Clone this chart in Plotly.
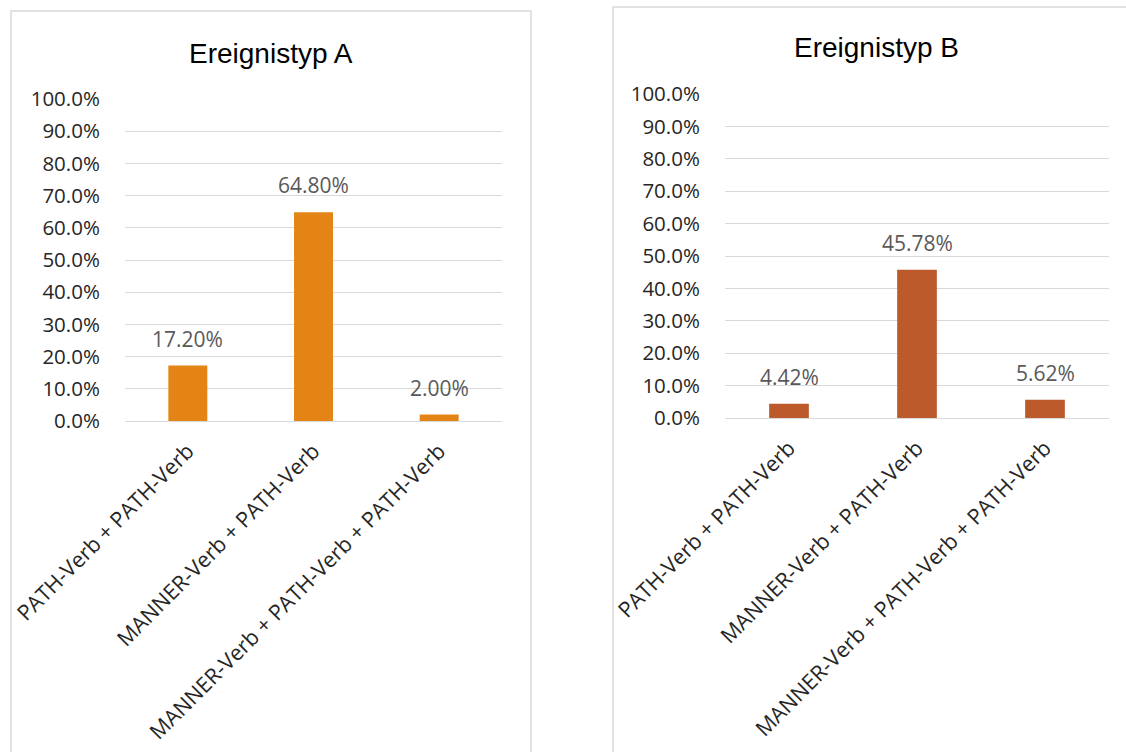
import plotly.graph_objects as go

W, H = 1126, 752

categories = [
    "PATH-Verb + PATH-Verb",
    "MANNER-Verb + PATH-Verb",
    "MANNER-Verb + PATH-Verb + PATH-Verb",
]
values_a = [17.20, 64.80, 2.00]
values_b = [4.42, 45.78, 5.62]
titles = ["Ereignistyp A", "Ereignistyp B"]
colors = ["#E48414", "#BD5A2C"]


def px_x(p):
    return p / W


def px_y(p):
    return 1 - p / H


fig = go.Figure()

fig.add_trace(go.Bar(x=categories, y=values_a, marker_color=colors[0],
                     marker_line_width=0, xaxis="x", yaxis="y", showlegend=False))
fig.add_trace(go.Bar(x=categories, y=values_b, marker_color=colors[1],
                     marker_line_width=0, xaxis="x2", yaxis="y2", showlegend=False))

tick_font = dict(family="Open Sans", size=20.5, color="#262626")
cat_font = dict(family="Open Sans", size=21.5, color="#262626")

common_y = dict(range=[0, 100], dtick=10, tickformat=".1f", ticksuffix="%",
                showgrid=True, gridcolor="#D9D9D9", gridwidth=1.3,
                zeroline=False, showline=False, tickfont=tick_font,
                ticks="outside", ticklen=20, tickcolor="rgba(0,0,0,0)",
                automargin=False)
common_x = dict(tickangle=-45, tickfont=cat_font, showgrid=False,
                showline=True, linecolor="#D9D9D9", linewidth=1.3,
                ticks="outside", ticklen=8, tickcolor="rgba(0,0,0,0)",
                automargin=False)

fig.update_layout(
    width=W, height=H,
    margin=dict(l=0, r=0, t=0, b=0, autoexpand=False),
    paper_bgcolor="white", plot_bgcolor="white",
    bargap=0.69,
    xaxis=dict(domain=[px_x(125), px_x(502)], anchor="y", **common_x),
    yaxis=dict(domain=[px_y(421), px_y(99)], anchor="x", **common_y),
    xaxis2=dict(domain=[px_x(725), px_x(1109)], anchor="y2", **common_x),
    yaxis2=dict(domain=[px_y(418), px_y(94)], anchor="x2", **common_y),
)

# chart-area frames
fig.add_shape(type="rect", xref="paper", yref="paper",
              x0=px_x(11), x1=px_x(531), y0=px_y(770), y1=px_y(11),
              line=dict(color="#D9D9D9", width=1.5), fillcolor="rgba(0,0,0,0)")
fig.add_shape(type="rect", xref="paper", yref="paper",
              x0=px_x(613), x1=px_x(1140), y0=px_y(770), y1=px_y(7),
              line=dict(color="#D9D9D9", width=1.5), fillcolor="rgba(0,0,0,0)")

# titles
title_font = dict(family="Liberation Sans", size=28, color="#000000")
fig.add_annotation(text=titles[0], xref="paper", yref="paper",
                   x=px_x(271), y=px_y(54), xanchor="center", yanchor="middle",
                   showarrow=False, font=title_font)
fig.add_annotation(text=titles[1], xref="paper", yref="paper",
                   x=px_x(876), y=px_y(47), xanchor="center", yanchor="middle",
                   showarrow=False, font=title_font)

# value labels above each bar
label_font = dict(family="Open Sans", size=21, color="#595959")
for xa, ya, vals in (("x", "y", values_a), ("x2", "y2", values_b)):
    for c, v in zip(categories, vals):
        fig.add_annotation(text=f"{v:.2f}%", x=c, y=v, xref=xa, yref=ya,
                           xanchor="center", yanchor="bottom", yshift=11,
                           showarrow=False, font=label_font)

fig.write_html("out.html")
